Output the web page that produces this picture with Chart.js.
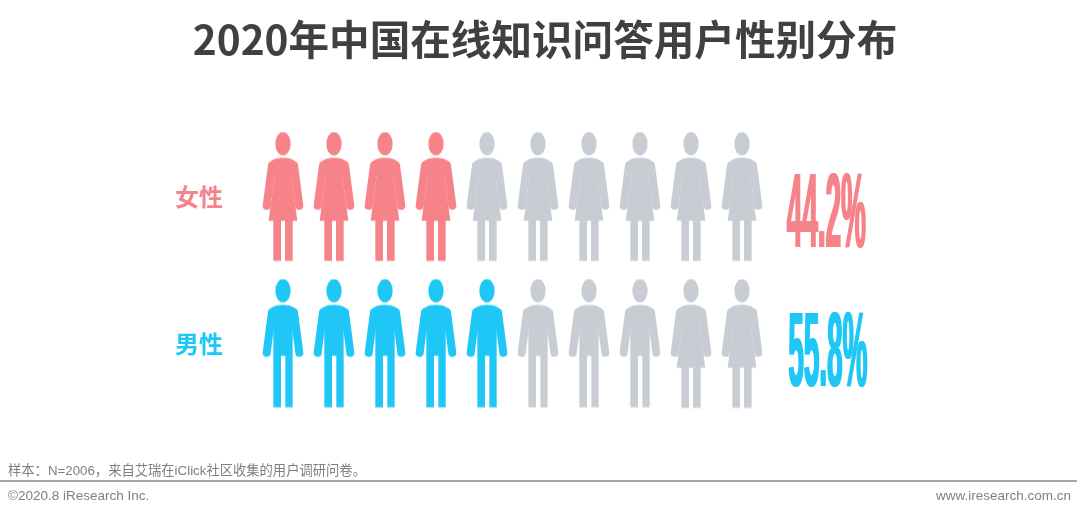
<!DOCTYPE html>
<html lang="zh">
<head>
<meta charset="utf-8">
<style>
html,body{margin:0;padding:0;background:#fff;width:1080px;height:516px;overflow:hidden}
#wrap{position:relative;width:1080px;height:516px}
canvas{position:absolute;left:0;top:0}
.t{position:absolute;white-space:nowrap;color:#7f7f7f;font-family:"Liberation Sans","Noto Sans CJK SC",sans-serif}
#rule{position:absolute;left:0;top:480px;width:1077px;height:2px;background:#a6a6a6}
</style>
</head>
<body>
<div id="wrap">
<canvas id="c" width="1080" height="516"></canvas>
<div class="t" style="left:8px;top:463px;font-size:13.3px;line-height:16px">样本&#xFF1A;N=2006&#xFF0C;来自艾瑞在iClick社区收集的用户调研问卷。</div>
<div id="rule"></div>
<div class="t" style="left:8px;top:488px;font-size:13.5px;line-height:15px">©2020.8 iResearch Inc.</div>
<div class="t" style="right:9px;top:488px;font-size:13.5px;line-height:15px">www.iresearch.com.cn</div>
</div>
<script src="https://cdn.jsdelivr.net/npm/chart.js@4/dist/chart.umd.min.js"></script>
<script>
const titleText = '2020年中国在线知识问答用户性别分布';
const categories = ['女性', '男性'];
const sharePct = [44.2, 55.8];
const filledIcons = [4, 5];
const iconSlots = [1, 2, 3, 4, 5, 6, 7, 8, 9, 10];
const femaleShapeSlots = [
  [1, 2, 3, 4, 5, 6, 7, 8, 9, 10],
  [9, 10]
];
const rowColors = ['#F58389', '#1FC7F6'];
const mutedColor = '#C8CDD4';

/* icon outline, in 1/3 px units, centred on x = 0, top of the head at y = 0 */
function drawFigure(g, shape, color) {
  g.fillStyle = color; g.strokeStyle = color;
  g.beginPath(); g.ellipse(0, 35, 23, 35, 0, 0, Math.PI * 2); g.fill();
  g.lineCap = 'round'; g.lineWidth = 24;
  [-1, 1].forEach(s => {
    g.beginPath(); g.moveTo(s * 33, 100); g.lineTo(s * 49, 221); g.stroke();
  });
  g.beginPath();
  if (shape === 'f') {
    g.moveTo(-43, 100);
    g.bezierCurveTo(-40, 85, -25, 77, 0, 77);
    g.bezierCurveTo(25, 77, 40, 85, 43, 100);
    g.lineTo(25, 129);
    g.lineTo(43, 266); g.lineTo(29, 266); g.lineTo(29, 386); g.lineTo(6, 386); g.lineTo(6, 266);
    g.lineTo(-6, 266); g.lineTo(-6, 386); g.lineTo(-29, 386); g.lineTo(-29, 266); g.lineTo(-43, 266);
    g.lineTo(-25, 129);
  } else {
    g.moveTo(-45, 100);
    g.bezierCurveTo(-41, 87, -25, 77, 0, 77);
    g.bezierCurveTo(25, 77, 41, 87, 45, 100);
    g.lineTo(29, 150);
    g.lineTo(29, 385); g.lineTo(7, 385); g.lineTo(7, 230); g.lineTo(-6, 230);
    g.lineTo(-6, 385); g.lineTo(-29, 385); g.lineTo(-29, 150);
  }
  g.closePath(); g.fill();
}
function makeIcon(shape, color) {
  const k = 3, w = 46, h = 130;
  const c = document.createElement('canvas');
  c.width = w; c.height = h;
  const g = c.getContext('2d');
  g.translate(w / 2, 0.5); g.scale(1 / k, 1 / k);
  drawFigure(g, shape, color);
  return c;
}
const iconCache = {};
function iconFor(row, slot) {
  const shape = femaleShapeSlots[row].includes(slot) ? 'f' : 'm';
  const color = slot <= filledIcons[row] ? rowColors[row] : mutedColor;
  const key = shape + color;
  return iconCache[key] || (iconCache[key] = makeIcon(shape, color));
}

const shareLabels = {
  id: 'shareLabels',
  afterDatasetsDraw(chart) {
    const { ctx, scales: { x, y } } = chart;
    categories.forEach((cat, i) => {
      const label = sharePct[i].toFixed(1) + '%';
      const left = x.getPixelForValue(10.88) + i * 1.5;
      const base = y.getPixelForValue(i) + [50, 42][i];
      ctx.save();
      ctx.font = 'bold 106px "Liberation Sans"';
      ctx.textAlign = 'left'; ctx.textBaseline = 'alphabetic';
      const m = ctx.measureText(label);
      const sx = 79 / m.width;
      ctx.fillStyle = rowColors[i];
      [-0.6, 0.6].forEach(dx => {
        ctx.setTransform(sx, 0, 0, 1, left + dx, base);
        ctx.fillText(label, 0, 0);
      });
      ctx.restore();
    });
  }
};

new Chart(document.getElementById('c'), {
  type: 'scatter',
  data: {
    labels: categories,
    datasets: categories.map((cat, row) => ({
      label: cat,
      data: iconSlots.map(slot => ({ x: slot, y: cat })),
      pointStyle: ctx => iconFor(row, iconSlots[ctx.dataIndex]),
      pointRadius: 20,
      hoverRadius: 20
    }))
  },
  options: {
    responsive: false,
    animation: false,
    layout: { padding: { left: 42, right: 32, top: 0, bottom: 99 } },
    plugins: {
      legend: { display: false },
      tooltip: { enabled: false },
      title: {
        display: true,
        text: titleText,
        color: '#404040',
        font: { family: '"Noto Sans CJK SC"', size: 40.6, weight: 'bold', lineHeight: 1.2 },
        padding: { top: 15, bottom: 59.3 }
      }
    },
    scales: {
      x: { type: 'linear', min: 0, max: 16, display: false, grid: { display: false } },
      y: {
        type: 'category',
        labels: categories,
        offset: true,
        grid: { display: false },
        border: { display: false },
        afterFit: s => { s.width = 190; },
        ticks: {
          padding: 1,
          color: ctx => rowColors[ctx.index],
          font: { family: '"Noto Sans CJK SC"', size: 24, weight: 'bold' }
        }
      }
    }
  },
  plugins: [shareLabels]
});
</script>
</body>
</html>
